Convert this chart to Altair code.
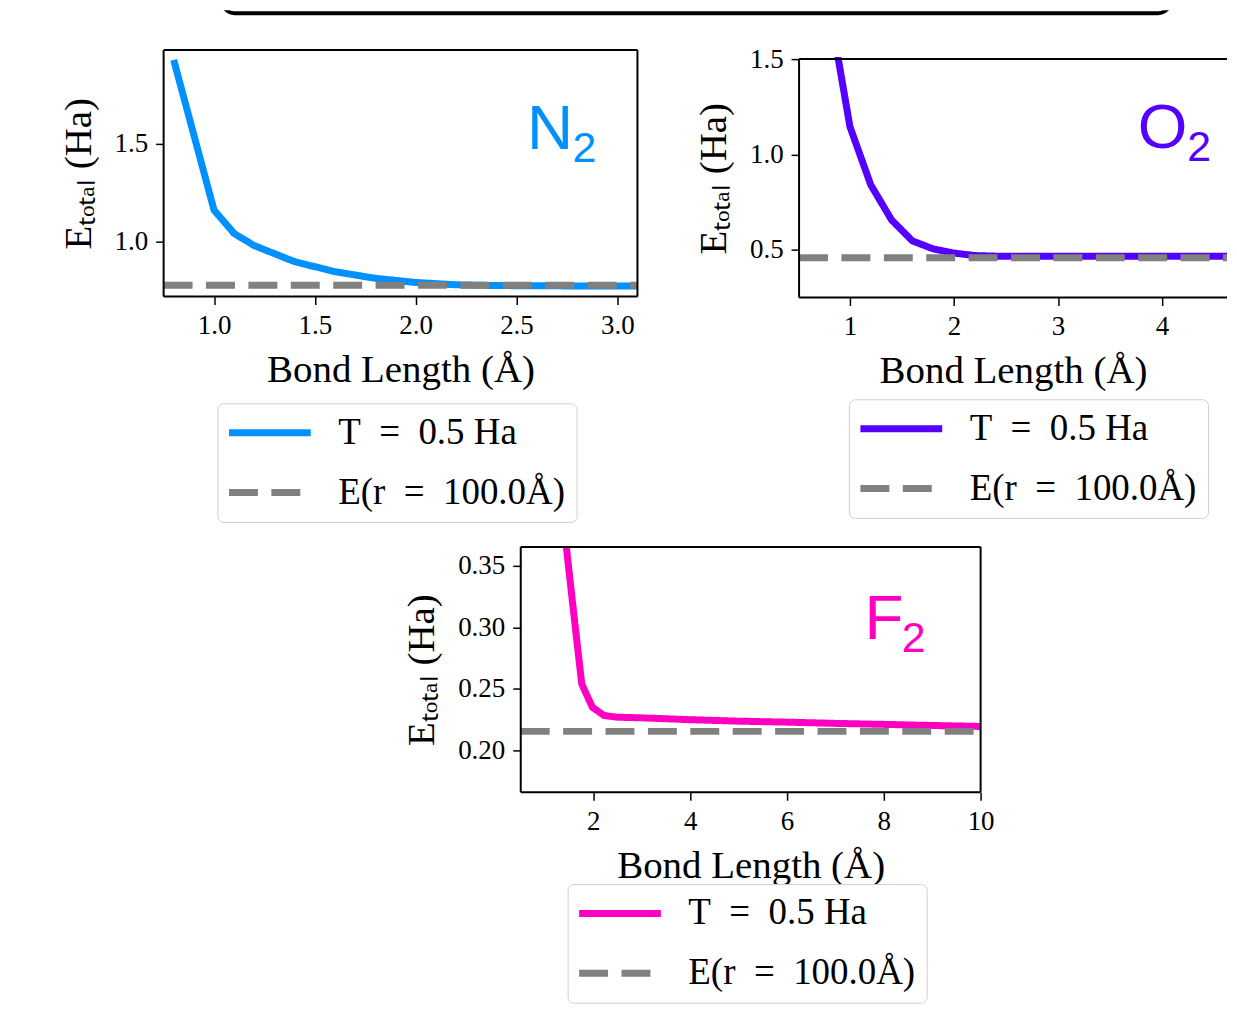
import altair as alt
import pandas as pd

SERIF = "Liberation Serif"
SANS = "Liberation Sans"
GRAY = "#808080"

series_names = ["T\u2002=\u20020.5 Ha", "E(r\u2002=\u2002100.0Å)"]
x_title = "Bond Length (Å)"
y_title = "Eₜₒₜₐₗ (Ha)"

# ---- N2 ----
n2_r = [0.8, 1.0, 1.1, 1.2, 1.4, 1.6, 1.8, 2.0, 2.2, 2.4, 2.6, 2.8, 3.0, 3.1]
n2_e = [1.93, 1.162, 1.042, 0.98, 0.898, 0.847, 0.813, 0.792, 0.780, 0.776, 0.775, 0.774, 0.774, 0.774]
n2_inf = 0.778
n2_xdom = [0.75, 3.1]
n2_ydom = [0.72, 1.98]
n2_xticks = [1.0, 1.5, 2.0, 2.5, 3.0]
n2_yticks = [1.0, 1.5]
n2_color = "#0091ff"
n2_label_t = ["N", "2"]
n2_label_r = [2.552, 2.778]
n2_label_e = [1.473, 1.408]

# ---- O2 (right part cut off by the page edge, as in the reference) ----
o2_r = [0.8, 1.0, 1.2, 1.4, 1.6, 1.8, 2.0, 2.2, 2.4, 2.6, 3.0, 3.5, 4.0, 4.5, 5.0]
o2_e = [1.78, 1.146, 0.841, 0.657, 0.547, 0.505, 0.483, 0.470, 0.467, 0.466, 0.466, 0.466, 0.466, 0.466, 0.466]
o2_inf = 0.459
o2_xdom = [0.511, 4.625]
o2_ydom = [0.25, 1.5]
o2_xticks = [1, 2, 3, 4]
o2_yticks = [0.5, 1.0, 1.5]
o2_color = "#5500ff"
o2_label_t = ["O", "2"]
o2_label_r = [3.767, 4.242]
o2_label_e = [1.0345, 0.965]

# ---- F2 ----
f2_r = [1.4, 1.62, 1.76, 1.98, 2.22, 2.5, 3.0, 4.0, 5.0, 6.0, 7.0, 8.0, 9.0, 10.0]
f2_e = [0.38, 0.3027, 0.2541, 0.2351, 0.2284, 0.227, 0.2265, 0.225, 0.2238, 0.223, 0.222, 0.2212, 0.2203, 0.2195]
f2_inf = 0.2155
f2_xdom = [0.5, 10.0]
f2_ydom = [0.166, 0.3654]
f2_xticks = [2, 4, 6, 8, 10]
f2_yticks = [0.20, 0.25, 0.30, 0.35]
f2_color = "#ff00c3"
f2_label_t = ["F", "2"]
f2_label_r = [7.599, 8.37]
f2_label_e = [0.2905, 0.2803]

label_sizes = [64, 43]
LW = 7


def panel(r, e, inf, xdom, ydom, xticks, yticks, xfmt, yfmt, color,
          lab_t, lab_r, lab_e, xrange, yrange, xoff, yoff, lx, ly, right_spine=True):
    curve = pd.DataFrame({"r": r, "E": e, "s": series_names[0]})
    ref = pd.DataFrame({"r": xdom, "E": [inf, inf], "s": series_names[1]})
    labs = pd.DataFrame({"r": lab_r, "E": lab_e, "t": lab_t, "fs": label_sizes})
    # spines: bottom, top, left, (right)
    fr = [xdom[0], xdom[0], xdom[0]]
    fr2 = [xdom[1], xdom[1], xdom[0]]
    fe = [ydom[0], ydom[1], ydom[0]]
    fe2 = [ydom[0], ydom[1], ydom[1]]
    if right_spine:
        fr.append(xdom[1]); fr2.append(xdom[1]); fe.append(ydom[0]); fe2.append(ydom[1])
    frame = pd.DataFrame({"r": fr, "r2": fr2, "E": fe, "E2": fe2})

    xenc = alt.X("r:Q", scale=alt.Scale(domain=xdom, range=xrange, nice=False, zero=False),
                 axis=alt.Axis(values=xticks, format=xfmt, title=x_title, orient="bottom",
                               offset=xoff))
    yenc = alt.Y("E:Q", scale=alt.Scale(domain=ydom, range=yrange, nice=False, zero=False),
                 axis=alt.Axis(values=yticks, format=yfmt, title=y_title, orient="left",
                               offset=yoff))
    leg = alt.Legend(orient="none", legendX=lx, legendY=ly, title=None,
                     direction="vertical", symbolType="M-4,0H4", symbolSize=420,
                     symbolStrokeWidth=LW, symbolOffset=23, labelFont=SERIF, labelFontSize=37,
                     labelColor="black", labelOffset=50, labelLimit=600,
                     strokeColor="#d0d0d0", fillColor="white", cornerRadius=6,
                     padding=11, rowPadding=22)
    cenc = alt.Color("s:N", scale=alt.Scale(domain=series_names, range=[color, GRAY]), legend=leg)
    denc = alt.StrokeDash("s:N", scale=alt.Scale(domain=series_names, range=[[1, 0], [29, 13.5]]),
                          legend=leg)

    l1 = alt.Chart(curve).mark_line(strokeWidth=LW, clip=True).encode(
        x=xenc, y=yenc, color=cenc, strokeDash=denc)
    l2 = alt.Chart(ref).mark_line(strokeWidth=LW, clip=True).encode(
        x=xenc, y=yenc, color=cenc, strokeDash=denc)
    sp = alt.Chart(frame).mark_rule(color="black", strokeWidth=2).encode(
        x=xenc, x2="r2:Q", y=yenc, y2="E2:Q")
    lt = alt.Chart(labs).mark_text(font=SANS, align="left", baseline="alphabetic",
                                   color=color).encode(
        x=xenc, y=yenc, text="t:N", size=alt.Size("fs:Q", scale=None, legend=None))
    return alt.layer(l1, l2, sp, lt)


ind = dict(x="independent", y="independent", color="independent", strokeDash="independent")
ind_leg = dict(color="independent", strokeDash="independent")

# Row 1 view: page x 163..1229, y 55..506
n2 = panel(n2_r, n2_e, n2_inf, n2_xdom, n2_ydom, n2_xticks, n2_yticks, ".1f", ".1f",
           n2_color, n2_label_t, n2_label_r, n2_label_e,
           [0, 475], [240, -7], -211, 0, 54, 347)
o2 = panel(o2_r, o2_e, o2_inf, o2_xdom, o2_ydom, o2_xticks, o2_yticks, "d", ".1f",
           o2_color, o2_label_t, o2_label_r, o2_label_e,
           [637, 1066], [241, 2], -210, -637, 687, 343, right_spine=False)
row1 = alt.layer(n2, o2).resolve_scale(**ind).resolve_axis(x="independent", y="independent") \
    .resolve_legend(**ind_leg).properties(width=1066, height=451)

# Row 2 view: page x 163..983, y 546..792
f2 = panel(f2_r, f2_e, f2_inf, f2_xdom, f2_ydom, f2_xticks, f2_yticks, "d", ".2f",
           f2_color, f2_label_t, f2_label_r, f2_label_e,
           [358, 819], [246, 0], 0, -358, 405, 338).properties(width=820, height=246)

# Top frame (bottom edge of a rounded box cut by the page top)
box_df = pd.DataFrame({"k": [0]})
frame = alt.Chart(box_df).mark_rect(fill="transparent", stroke="black", strokeWidth=4,
                                    cornerRadius=12, clip=True).encode(
    x=alt.value(59), x2=alt.value(1009), y=alt.value(-60), y2=alt.value(3))
anchor = alt.Chart(box_df).mark_rect(fill="white").encode(
    x=alt.value(-155), x2=alt.value(-154), y=alt.value(0), y2=alt.value(1))
box = alt.layer(frame, anchor).properties(width=1015, height=7)

chart = alt.vconcat(box, row1, f2, spacing=40, bounds="flush").resolve_scale(**ind) \
    .resolve_legend(**ind_leg)
chart = chart.properties(padding=0).configure_view(
    stroke="transparent"
).configure_axis(
    labelFont=SERIF, labelFontSize=27, labelColor="black",
    titleFont=SERIF, titleFontSize=39, titleFontWeight="normal", titleColor="black",
    tickColor="black", tickSize=8, tickWidth=1.5, domain=False, grid=False,
    labelPadding=8, titlePadding=12, labelFlush=False
).configure_axisY(titlePadding=16)

chart.save("out.html", embed_options={"renderer": "svg", "actions": False})
